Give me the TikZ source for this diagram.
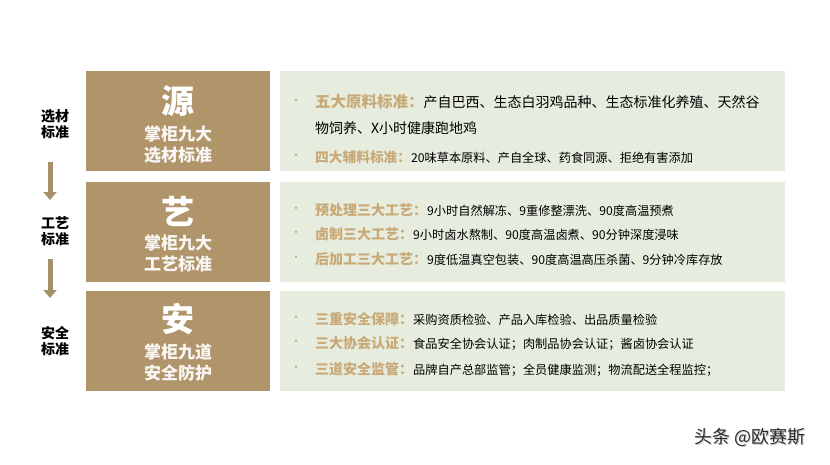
\documentclass[tikz,border=0pt]{standalone}
\usepackage{fontspec}
\setmainfont{Noto Sans CJK SC}
\usetikzlibrary{arrows.meta}
\definecolor{brownbox}{HTML}{B0946A}
\definecolor{greenbox}{HTML}{E6EDDE}
\definecolor{tanlabel}{HTML}{C9A977}
\definecolor{arrowcol}{HTML}{A68F6B}
\definecolor{wmark}{HTML}{2A2A2A}
\newcommand{\fs}[1]{\fontsize{#1}{#1}\selectfont}
\tikzset{
  leftbox/.style={fill=brownbox, minimum width=184pt, minimum height=100pt, inner sep=0pt},
  rightbox/.style={fill=greenbox, minimum width=505pt, minimum height=100pt, inner sep=0pt},
  bigchar/.style={text=white, font=\fs{33}\bfseries, inner sep=0pt},
  subline/.style={text=white!92!brownbox, font=\fs{17}\bfseries, inner sep=0pt},
  sidelabel/.style={text=black, font=\fontsize{14}{16}\selectfont\bfseries, align=center, inner sep=0pt},
  itemline/.style={anchor=west, inner sep=0pt, font=\fs{12.2}},
  dot/.style={text=tanlabel, font=\fs{11}, inner sep=0pt},
  flowarrow/.style={draw=arrowcol, line width=5pt, -{Triangle[width=13pt,length=8pt]}},
}
\newcommand{\lab}[2][14]{\textcolor{tanlabel}{\fs{#1}\bfseries #2}}
\begin{document}
\begin{tikzpicture}[x=1pt,y=-1pt]
\useasboundingbox (0,0) rectangle (830,464);
\fill[white] (0,0) rectangle (830,464);

% brown boxes
\node[leftbox] (b1) at (178,121) {};
\node[leftbox] (b2) at (178,231.5) {};
\node[leftbox] (b3) at (178,340.5) {};
% green boxes
\node[rightbox] (g1) at (532.5,121) {};
\node[rightbox] (g2) at (532.5,232) {};
\node[rightbox] (g3) at (532.5,340.5) {};

% brown box texts
\node[bigchar] (c1) at (178,101) {源};
\node[subline] (s1a) at (178,134) {掌柜九大};
\node[subline] (s1b) at (178,155) {选材标准};
\node[bigchar] (c2) at (178,211) {艺};
\node[subline] (s2a) at (178,243) {掌柜九大};
\node[subline] (s2b) at (178,264) {工艺标准};
\node[bigchar] (c3) at (178,319) {安};
\node[subline] (s3a) at (178,352) {掌柜九道};
\node[subline] (s3b) at (178,373) {安全防护};

% side labels and arrows
\node[sidelabel] (l1) at (55,124) {选材\\标准};
\node[sidelabel] (l2) at (55,231) {工艺\\标准};
\node[sidelabel] (l3) at (55,341) {安全\\标准};
\coordinate (a1s) at (50,162);
\coordinate (a1e) at (50,200);
\coordinate (a2s) at (50,259);
\coordinate (a2e) at (50,298);
\draw[flowarrow] (a1s) -- (a1e);
\draw[flowarrow] (a2s) -- (a2e);

% box 1 items
\node[dot] (d11) at (296,102) {•};
\node[itemline, font=\fs{14}] (t11) at (315,102) {\lab[15.5]{五大原料标准：}产自巴西、生态白羽鸡品种、生态标准化养殖、天然谷};
\node[itemline, font=\fs{14}] (t11b) at (315,128) {物饲养、X小时健康跑地鸡};
\node[dot] (d12) at (296,157) {•};
\node[itemline] (t12) at (315,157) {\lab[13.7]{四大辅料标准：}20味草本原料、产自全球、药食同源、拒绝有害添加};

% box 2 items
\node[dot] (d21) at (296,210) {•};
\node[itemline] (t21) at (315,210) {\lab{预处理三大工艺：}9小时自然解冻、9重修整漂洗、90度高温预煮};
\node[dot] (d22) at (296,234) {•};
\node[itemline] (t22) at (315,234) {\lab{卤制三大工艺：}9小时卤水熬制、90度高温卤煮、90分钟深度浸味};
\node[dot] (d23) at (296,259) {•};
\node[itemline] (t23) at (315,259) {\lab{后加工三大工艺：}9度低温真空包装、90度高温高压杀菌、9分钟冷库存放};

% box 3 items
\node[dot] (d31) at (296,319) {•};
\node[itemline] (t31) at (315,319) {\lab{三重安全保障：}采购资质检验、产品入库检验、出品质量检验};
\node[dot] (d32) at (296,343) {•};
\node[itemline] (t32) at (315,343) {\lab{三大协会认证：}食品安全协会认证；肉制品协会认证；酱卤协会认证};
\node[dot] (d33) at (296,369) {•};
\node[itemline] (t33) at (315,369) {\lab{三道安全监管：}品牌自产总部监管；全员健康监测；物流配送全程监控；};

% watermark
\node[text=gray!40, font=\fs{18}, inner sep=0pt] at (751,438.6) {头条 @欧赛斯};
\node[text=wmark, font=\fs{18}, inner sep=0pt] (wm) at (750,437.5) {头条 @欧赛斯};
\end{tikzpicture}
\end{document}
